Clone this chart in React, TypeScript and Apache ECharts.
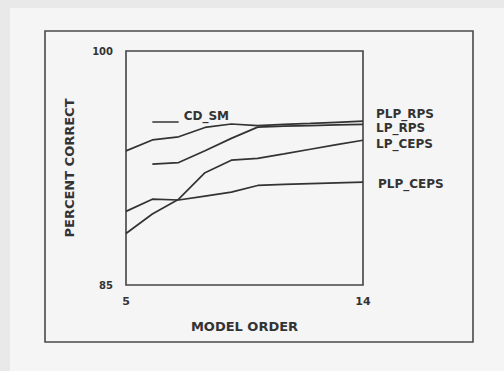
import React, { useEffect, useRef } from "react";
import * as echarts from "echarts";

const modelOrders = [5, 6, 7, 8, 9, 10, 11, 12, 13, 14];
const plpRps = [93.6, 94.3, 94.5, 95.1, 95.32, 95.22, 95.3, 95.36, 95.43, 95.5];
const lpRpsOrders = [6, 7, 8, 9, 10, 11, 12, 13, 14];
const lpRps = [92.75, 92.85, 93.6, 94.4, 95.12, 95.18, 95.22, 95.26, 95.3];
const lpCeps = [88.3, 89.55, 90.5, 92.2, 93.0, 93.12, 93.4, 93.7, 94.0, 94.28];
const plpCeps = [89.72, 90.5, 90.45, 90.7, 90.95, 91.38, 91.45, 91.5, 91.55, 91.6];
const cdSmOrders = [6, 7];
const cdSm = [95.45, 95.45];
const xTickLabels = [5, 14];
const yTickLabels = [85, 100];

const INK = "#333333";
const FONT = "DejaVu Sans";

export default function App() {
  const ref = useRef<HTMLDivElement>(null);
  useEffect(() => {
    document.body.style.margin = "0";
    const chart = echarts.init(ref.current!, null, { renderer: "svg" });
    const pair = (xs: number[], ys: number[]) => xs.map((x, i) => [x, ys[i]]);
    const lineSeries = (name: string, data: number[][], dy: number, dx = 13) => ({
      name,
      type: "line",
      data,
      showSymbol: false,
      lineStyle: { color: INK, width: 1.7 },
      endLabel: {
        show: true,
        formatter: name,
        color: INK,
        fontFamily: FONT,
        fontWeight: "bold",
        fontSize: 12,
        distance: dx,
        offset: [0, dy],
      },
    });
    chart.setOption({
      animation: false,
      backgroundColor: "#e9e9e9",
      graphic: [
        {
          type: "rect",
          shape: { x: 10, y: 8, width: 494, height: 363 },
          style: { fill: "#f5f5f5" },
          z: -10,
        },
        {
          type: "rect",
          shape: { x: 45, y: 31, width: 428, height: 311 },
          style: { fill: "none", stroke: "#4a4a4a", lineWidth: 1.6 },
        },
      ],
      grid: {
        left: 126,
        right: 141,
        top: 51,
        bottom: 86,
        show: true,
        borderColor: "#444",
        borderWidth: 1.6,
      },
      xAxis: {
        type: "value",
        min: 5,
        max: 14,
        interval: 1,
        name: "MODEL ORDER",
        nameLocation: "middle",
        nameGap: 35,
        nameTextStyle: { color: INK, fontFamily: FONT, fontWeight: "bold", fontSize: 13 },
        axisLine: { show: false },
        axisTick: { show: false },
        splitLine: { show: false },
        axisLabel: {
          margin: 11,
          color: INK,
          fontFamily: FONT,
          fontWeight: "bold",
          fontSize: 11,
          formatter: (v: number) => (xTickLabels.includes(v) ? String(v) : ""),
        },
      },
      yAxis: {
        type: "value",
        min: 85,
        max: 100,
        interval: 5,
        name: "PERCENT CORRECT",
        nameLocation: "middle",
        nameRotate: 90,
        nameGap: 50,
        nameTextStyle: { color: INK, fontFamily: FONT, fontWeight: "bold", fontSize: 13 },
        axisLine: { show: false },
        axisTick: { show: false },
        splitLine: { show: false },
        axisLabel: {
          margin: 13,
          color: INK,
          fontFamily: FONT,
          fontWeight: "bold",
          fontSize: 10,
          formatter: (v: number) => (yTickLabels.includes(v) ? String(v) : ""),
        },
      },
      series: [
        lineSeries("PLP_RPS", pair(modelOrders, plpRps), -7),
        lineSeries("LP_RPS", pair(lpRpsOrders, lpRps), 4),
        lineSeries("LP_CEPS", pair(modelOrders, lpCeps), 4),
        lineSeries("PLP_CEPS", pair(modelOrders, plpCeps), 2, 15),
        lineSeries("CD_SM", pair(cdSmOrders, cdSm), -6, 5),
      ],
    });
    return () => chart.dispose();
  }, []);
  return (
    <div
      ref={ref}
      style={{ position: "fixed", left: 0, top: 0, width: 504, height: 371 }}
    />
  );
}
